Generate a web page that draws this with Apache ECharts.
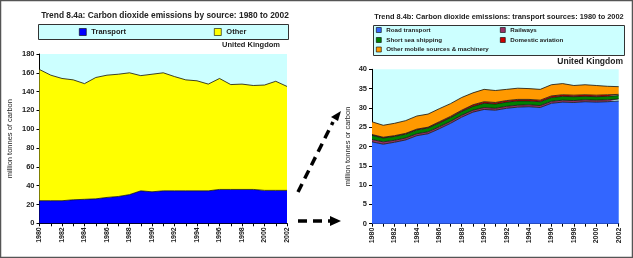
<!DOCTYPE html>
<html lang="en">
<head>
    <meta charset="UTF-8">
    <title>Trend 8.4a / 8.4b</title>
    <script src="https://cdn.jsdelivr.net/npm/echarts@6.0.0/dist/echarts.min.js"></script>
    <style>
        html, body { margin: 0; padding: 0; background: #fff; }
        #chart { width: 633px; height: 258px; }
    </style>
</head>
<body>
    <div id="chart"></div>

    <script>
        // years shared by both charts
        const years = ['1980', '1981', '1982', '1983', '1984', '1985', '1986', '1987', '1988', '1989', '1990', '1991',
            '1992', '1993', '1994', '1995', '1996', '1997', '1998', '1999', '2000', '2001', '2002'];

        // 8.4a: million tonnes of carbon, stacked
        const transport = [24, 24, 24, 25, 25.5, 26, 27.5, 28.5, 30.5, 34.5, 33.5, 34.5, 34.5, 34.5, 34.5, 34.5, 36, 36, 36, 36, 35, 35, 35];
        const other = [139.5, 133.5, 130, 127.5, 123, 129, 130, 130, 129.5, 122.5, 125, 125.5, 121.5, 118, 117, 113.5, 118, 111.5, 112, 110.5, 112, 116, 110.5];

        // 8.4b: transport sources, stacked
        const road = [21.2, 20.6, 21.1, 21.7, 22.8, 23.3, 24.6, 26.0, 27.6, 28.9, 29.6, 29.4, 29.9, 30.2, 30.3, 30.1, 31.2, 31.5, 31.4, 31.6, 31.5, 31.6, 31.8];
        const railways = [0.6, 0.6, 0.5, 0.5, 0.5, 0.5, 0.5, 0.5, 0.5, 0.5, 0.5, 0.5, 0.5, 0.5, 0.5, 0.5, 0.5, 0.5, 0.5, 0.5, 0.5, 0.5, 0.5];
        const shipping = [1.1, 1.0, 1.0, 1.0, 1.0, 1.0, 1.0, 1.0, 1.0, 1.0, 1.1, 1.1, 1.1, 1.1, 1.0, 1.0, 1.0, 1.0, 1.0, 0.9, 0.9, 0.9, 0.9];
        const aviation = [0.2, 0.2, 0.2, 0.2, 0.2, 0.2, 0.3, 0.3, 0.3, 0.4, 0.4, 0.4, 0.4, 0.4, 0.4, 0.4, 0.4, 0.4, 0.4, 0.4, 0.4, 0.4, 0.3];
        const otherMobile = [3.3, 3.1, 3.2, 3.3, 3.4, 3.4, 3.4, 3.3, 3.3, 3.1, 3.2, 3.1, 2.9, 2.9, 2.8, 2.8, 2.9, 2.9, 2.5, 2.6, 2.5, 2.2, 2.0];

        const font = 'Arial, "Liberation Sans", sans-serif';

        var myChart = echarts.init(document.getElementById('chart'));

        function xAxisCfg(gridIndex) {
            return {
                type: 'category',
                gridIndex: gridIndex,
                data: years,
                boundaryGap: false,
                axisLine: { lineStyle: { color: '#000', width: 1 } },
                axisTick: { interval: 0, length: 3, lineStyle: { color: '#000' } },
                axisLabel: {
                    interval: 1,
                    rotate: 90,
                    fontSize: 7,
                    fontWeight: 'bold',
                    fontFamily: font,
                    color: '#222',
                    margin: 4
                }
            };
        }

        function yAxisCfg(gridIndex, max, interval, name, gap) {
            return {
                type: 'value',
                gridIndex: gridIndex,
                min: 0,
                max: max,
                interval: interval,
                name: name,
                nameLocation: 'middle',
                nameRotate: 90,
                nameGap: gap,
                nameTextStyle: { fontSize: 7.5, fontFamily: font, color: '#222' },
                axisLine: { show: true, lineStyle: { color: '#000', width: 1 } },
                axisTick: { show: true, length: 3, lineStyle: { color: '#000' } },
                splitLine: { show: false },
                axisLabel: { fontSize: 7.5, fontWeight: 'bold', fontFamily: font, color: '#222', margin: 5 }
            };
        }

        function area(name, data, color, xi) {
            return {
                name: name,
                type: 'line',
                xAxisIndex: xi,
                yAxisIndex: xi,
                stack: 'g' + xi,
                data: data,
                symbol: 'none',
                lineStyle: { color: '#111', width: 0.8 },
                itemStyle: { color: color, borderColor: '#000', borderWidth: 0.5 },
                areaStyle: { color: color, opacity: 1 },
                z: 3
            };
        }

        var legendText = { fontSize: 7.5, fontWeight: 'bold', fontFamily: font, color: '#222' };
        var legendSmall = { fontSize: 6.2, fontWeight: 'bold', fontFamily: font, color: '#222' };

        function legendAt(names, left, top, textStyle, size) {
            return {
                data: names,
                left: left,
                top: top,
                orient: 'horizontal',
                icon: 'rect',
                itemWidth: size,
                itemHeight: size,
                itemGap: 10,
                padding: 0,
                selectedMode: false,
                itemStyle: { borderColor: '#000', borderWidth: 0.6 },
                textStyle: textStyle
            };
        }

        // titles without the default padding so left/top are the text box
        function label(text, left, top, align, size) {
            return {
                text: text,
                left: left,
                top: top,
                textAlign: align,
                padding: 0,
                textStyle: { fontSize: size, fontWeight: 'bold', fontFamily: font, color: '#222' }
            };
        }

        // dashed arrows between the two charts
        function dash(points) {
            return {
                type: 'polyline',
                shape: { points: points },
                style: { stroke: '#000', lineWidth: 3.5, lineDash: [9, 6], fill: null },
                z: 20
            };
        }

        var option = {
            backgroundColor: '#fff',
            animation: false,
            grid: [
                { left: 39.5, top: 54, width: 247.5, height: 169.3, outerBoundsMode: 'none', backgroundColor: '#ccffff', show: true, borderWidth: 0 },
                { left: 372, top: 69.3, width: 246.7, height: 154.4, outerBoundsMode: 'none', backgroundColor: '#ccffff', show: true, borderWidth: 0 }
            ],
            xAxis: [xAxisCfg(0), xAxisCfg(1)],
            yAxis: [
                yAxisCfg(0, 180, 20, 'million tonnes of carbon', 26),
                yAxisCfg(1, 40, 5, 'million tonnes or carbon', 20)
            ],
            legend: [
                legendAt(['Transport'], 79, 28, legendText, 7),
                legendAt(['Other'], 214, 28, legendText, 7),
                legendAt(['Road transport'], 376, 27, legendSmall, 5),
                legendAt(['Railways'], 500, 27, legendSmall, 5),
                legendAt(['Short sea shipping'], 376, 37, legendSmall, 5),
                legendAt(['Domestic aviation'], 500, 37, legendSmall, 5),
                legendAt(['Other mobile sources & machinery'], 376, 46.5, legendSmall, 5)
            ],
            title: [
                label('Trend 8.4a: Carbon dioxide emissions by source: 1980 to 2002', 165, 12, 'center', 8.4),
                label('United Kingdom', 280, 41, 'right', 7.5),
                label('Trend 8.4b: Carbon dioxide emissions: transport sources: 1980 to 2002', 499, 13, 'center', 7.4),
                label('United Kingdom', 623, 57, 'right', 8.5)
            ],
            graphic: [
                // outer frame
                { type: 'rect', shape: { x: 0.5, y: 0.5, width: 632, height: 257 }, style: { fill: null, stroke: '#555', lineWidth: 1.5 }, z: 30 },
                // legend boxes
                { type: 'rect', shape: { x: 38.5, y: 24.5, width: 250, height: 15 }, style: { fill: '#ccffff', stroke: '#333', lineWidth: 1 }, z: 1 },
                { type: 'rect', shape: { x: 373.5, y: 25.5, width: 251, height: 30 }, style: { fill: '#ccffff', stroke: '#333', lineWidth: 1 }, z: 1 },
                dash([[298, 192], [333, 122]]),
                { type: 'polygon', shape: { points: [[341, 111], [331, 117], [338, 121]] }, style: { fill: '#000' }, z: 20 },
                dash([[298, 221], [331, 221]]),
                { type: 'polygon', shape: { points: [[341, 221], [330, 216], [330, 226]] }, style: { fill: '#000' }, z: 20 }
            ],
            series: [
                area('Transport', transport, '#0000ff', 0),
                area('Other', other, '#ffff00', 0),
                area('Road transport', road, '#3366ff', 1),
                area('Railways', railways, '#993366', 1),
                area('Short sea shipping', shipping, '#008000', 1),
                area('Domestic aviation', aviation, '#cc0000', 1),
                area('Other mobile sources & machinery', otherMobile, '#ff9900', 1)
            ]
        };

        myChart.setOption(option);
    </script>
</body>
</html>
